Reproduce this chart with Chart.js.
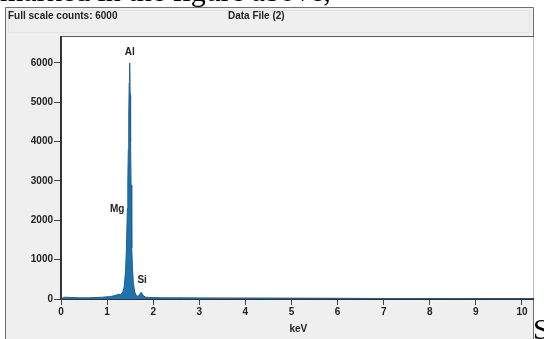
<!DOCTYPE html>
<html>
<head>
<meta charset="utf-8">
<script src="https://cdn.jsdelivr.net/npm/chart.js@4"></script>
<style>
  html, body { margin: 0; padding: 0; background: #fff; }
  #wrap { width: 544px; height: 339px; position: relative; }
</style>
</head>
<body>
<div id="wrap"><canvas id="spectrum" width="544" height="339"></canvas></div>
<script>
// spectrum (keV, counts)
const energy = [0, 0.05, 0.1, 0.2, 0.3, 0.4, 0.5, 0.6, 0.7, 0.8, 0.9, 1.0, 1.05, 1.1, 1.15, 1.2, 1.25, 1.28, 1.31, 1.34, 1.37,
  1.40, 1.42, 1.44, 1.45, 1.46, 1.47, 1.48, 1.49, 1.50, 1.51, 1.52, 1.53, 1.54, 1.55, 1.57, 1.60, 1.63, 1.67, 1.70,
  1.72, 1.74, 1.76, 1.79, 1.83, 1.9, 2.0, 2.2, 2.5, 3.0, 3.5, 4.0, 4.5, 5.0, 5.5, 6.0, 6.5, 7.0, 7.5, 8.0, 8.5, 9.0, 9.5, 10.0, 10.24];
const counts = [0, 40, 45, 40, 35, 30, 30, 30, 35, 40, 45, 55, 60, 70, 80, 100, 120, 110, 130, 180, 300,
  700, 1300, 2300, 3000, 3800, 4700, 5500, 6000, 5200, 4000, 2900, 2000, 1300, 800, 400, 180, 90, 70, 100,
  140, 170, 130, 80, 50, 40, 35, 30, 30, 28, 26, 25, 24, 22, 20, 18, 15, 12, 10, 9, 8, 7, 6, 5, 5];

const xTicks = [0, 1, 2, 3, 4, 5, 6, 7, 8, 9, 10];
const yTicks = [0, 1000, 2000, 3000, 4000, 5000, 6000];

// peak labels and where they sit (keV, counts)
const peakNames = ['Al', 'Mg', 'Si'];
const peakKeV = [1.49, 1.22, 1.76];
const peakCounts = [6150, 2150, 360];

const tickFont = { family: 'Liberation Sans', size: 10, weight: 'bold' };

// panel, title strip and the surrounding page text
const panelPlugin = {
  id: 'panel',
  beforeDraw(chart) {
    const c = chart.ctx, a = chart.chartArea;
    c.save();
    c.fillStyle = '#fff';
    c.fillRect(0, 0, 544, 339);
    // grey panel
    c.fillStyle = '#efefef';
    c.fillRect(5, 7, a.right - 5, 339 - 7);
    c.strokeStyle = '#6f6f6f';
    c.lineWidth = 1;
    c.beginPath();
    c.moveTo(5.5, 339); c.lineTo(5.5, 7.5); c.lineTo(a.right + 0.5, 7.5); c.lineTo(a.right + 0.5, 339);
    c.stroke();
    c.strokeStyle = '#e2e2e2';
    c.strokeRect(8.5, 10.5, a.right - 12, 22);
    // white plot area
    c.fillStyle = '#fff';
    c.fillRect(a.left, a.top, a.right - a.left, a.bottom - a.top);
    c.strokeStyle = '#5a5a5a';
    c.beginPath();
    c.moveTo(a.left, a.top - 0.5); c.lineTo(a.right + 1, a.top - 0.5);
    c.stroke();
    c.strokeStyle = '#bdbdbd';
    c.beginPath();
    c.moveTo(a.right + 0.5, a.top); c.lineTo(a.right + 0.5, a.bottom);
    c.stroke();
    // titles
    c.fillStyle = '#222';
    c.font = 'bold 10px "Liberation Sans"';
    c.textBaseline = 'middle';
    c.fillText('Full scale counts: 6000', 8, 16);
    c.fillText('Data File (2)', 228, 16);
    // page text around the figure
    c.fillStyle = '#000';
    c.font = '30px "Liberation Serif"';
    c.textBaseline = 'alphabetic';
    c.fillText('marked in the figure above,', 0, 1);
    c.fillText('S', 533, 339);
    c.restore();
  },
  afterDraw(chart) {
    const c = chart.ctx, x = chart.scales.x, y = chart.scales.y;
    c.save();
    c.fillStyle = '#222';
    c.font = 'bold 10px "Liberation Sans"';
    c.textAlign = 'center';
    c.textBaseline = 'bottom';
    peakNames.forEach((n, i) => {
      c.fillText(n, x.getPixelForValue(peakKeV[i]), y.getPixelForValue(peakCounts[i]));
    });
    c.textBaseline = 'middle';
    c.fillText('keV', x.getPixelForValue(5.15), 329);
    c.restore();
  }
};

new Chart(document.getElementById('spectrum'), {
  type: 'line',
  data: {
    datasets: [{
      data: energy.map((e, i) => ({ x: e, y: counts[i] })),
      borderColor: '#1d5f92',
      backgroundColor: '#1f72ad',
      borderWidth: 1,
      fill: 'origin',
      pointRadius: 0,
      tension: 0
    }]
  },
  options: {
    responsive: false,
    animation: false,
    layout: { padding: { left: 0, top: 37, right: 11, bottom: 0 } },
    plugins: { legend: { display: false }, tooltip: { enabled: false } },
    scales: {
      x: {
        type: 'linear',
        min: 0,
        max: 10.24,
        afterBuildTicks: s => { s.ticks = xTicks.map(v => ({ value: v })); },
        afterFit: s => { s.height = 40; },
        grid: { drawOnChartArea: false, drawTicks: true, tickLength: 6, color: '#444' },
        border: { display: true, color: '#333', width: 2 },
        ticks: { font: tickFont, color: '#222', padding: 1, maxRotation: 0, callback: v => String(v) }
      },
      y: {
        min: 0,
        max: 6660,
        afterBuildTicks: s => { s.ticks = yTicks.map(v => ({ value: v })); },
        afterFit: s => { s.width = 61; },
        grid: { drawOnChartArea: false, drawTicks: true, tickLength: 7, color: '#444' },
        border: { display: true, color: '#333', width: 2 },
        ticks: { font: tickFont, color: '#222', padding: 1, callback: v => String(v) }
      }
    }
  },
  plugins: [panelPlugin]
});
</script>
</body>
</html>
